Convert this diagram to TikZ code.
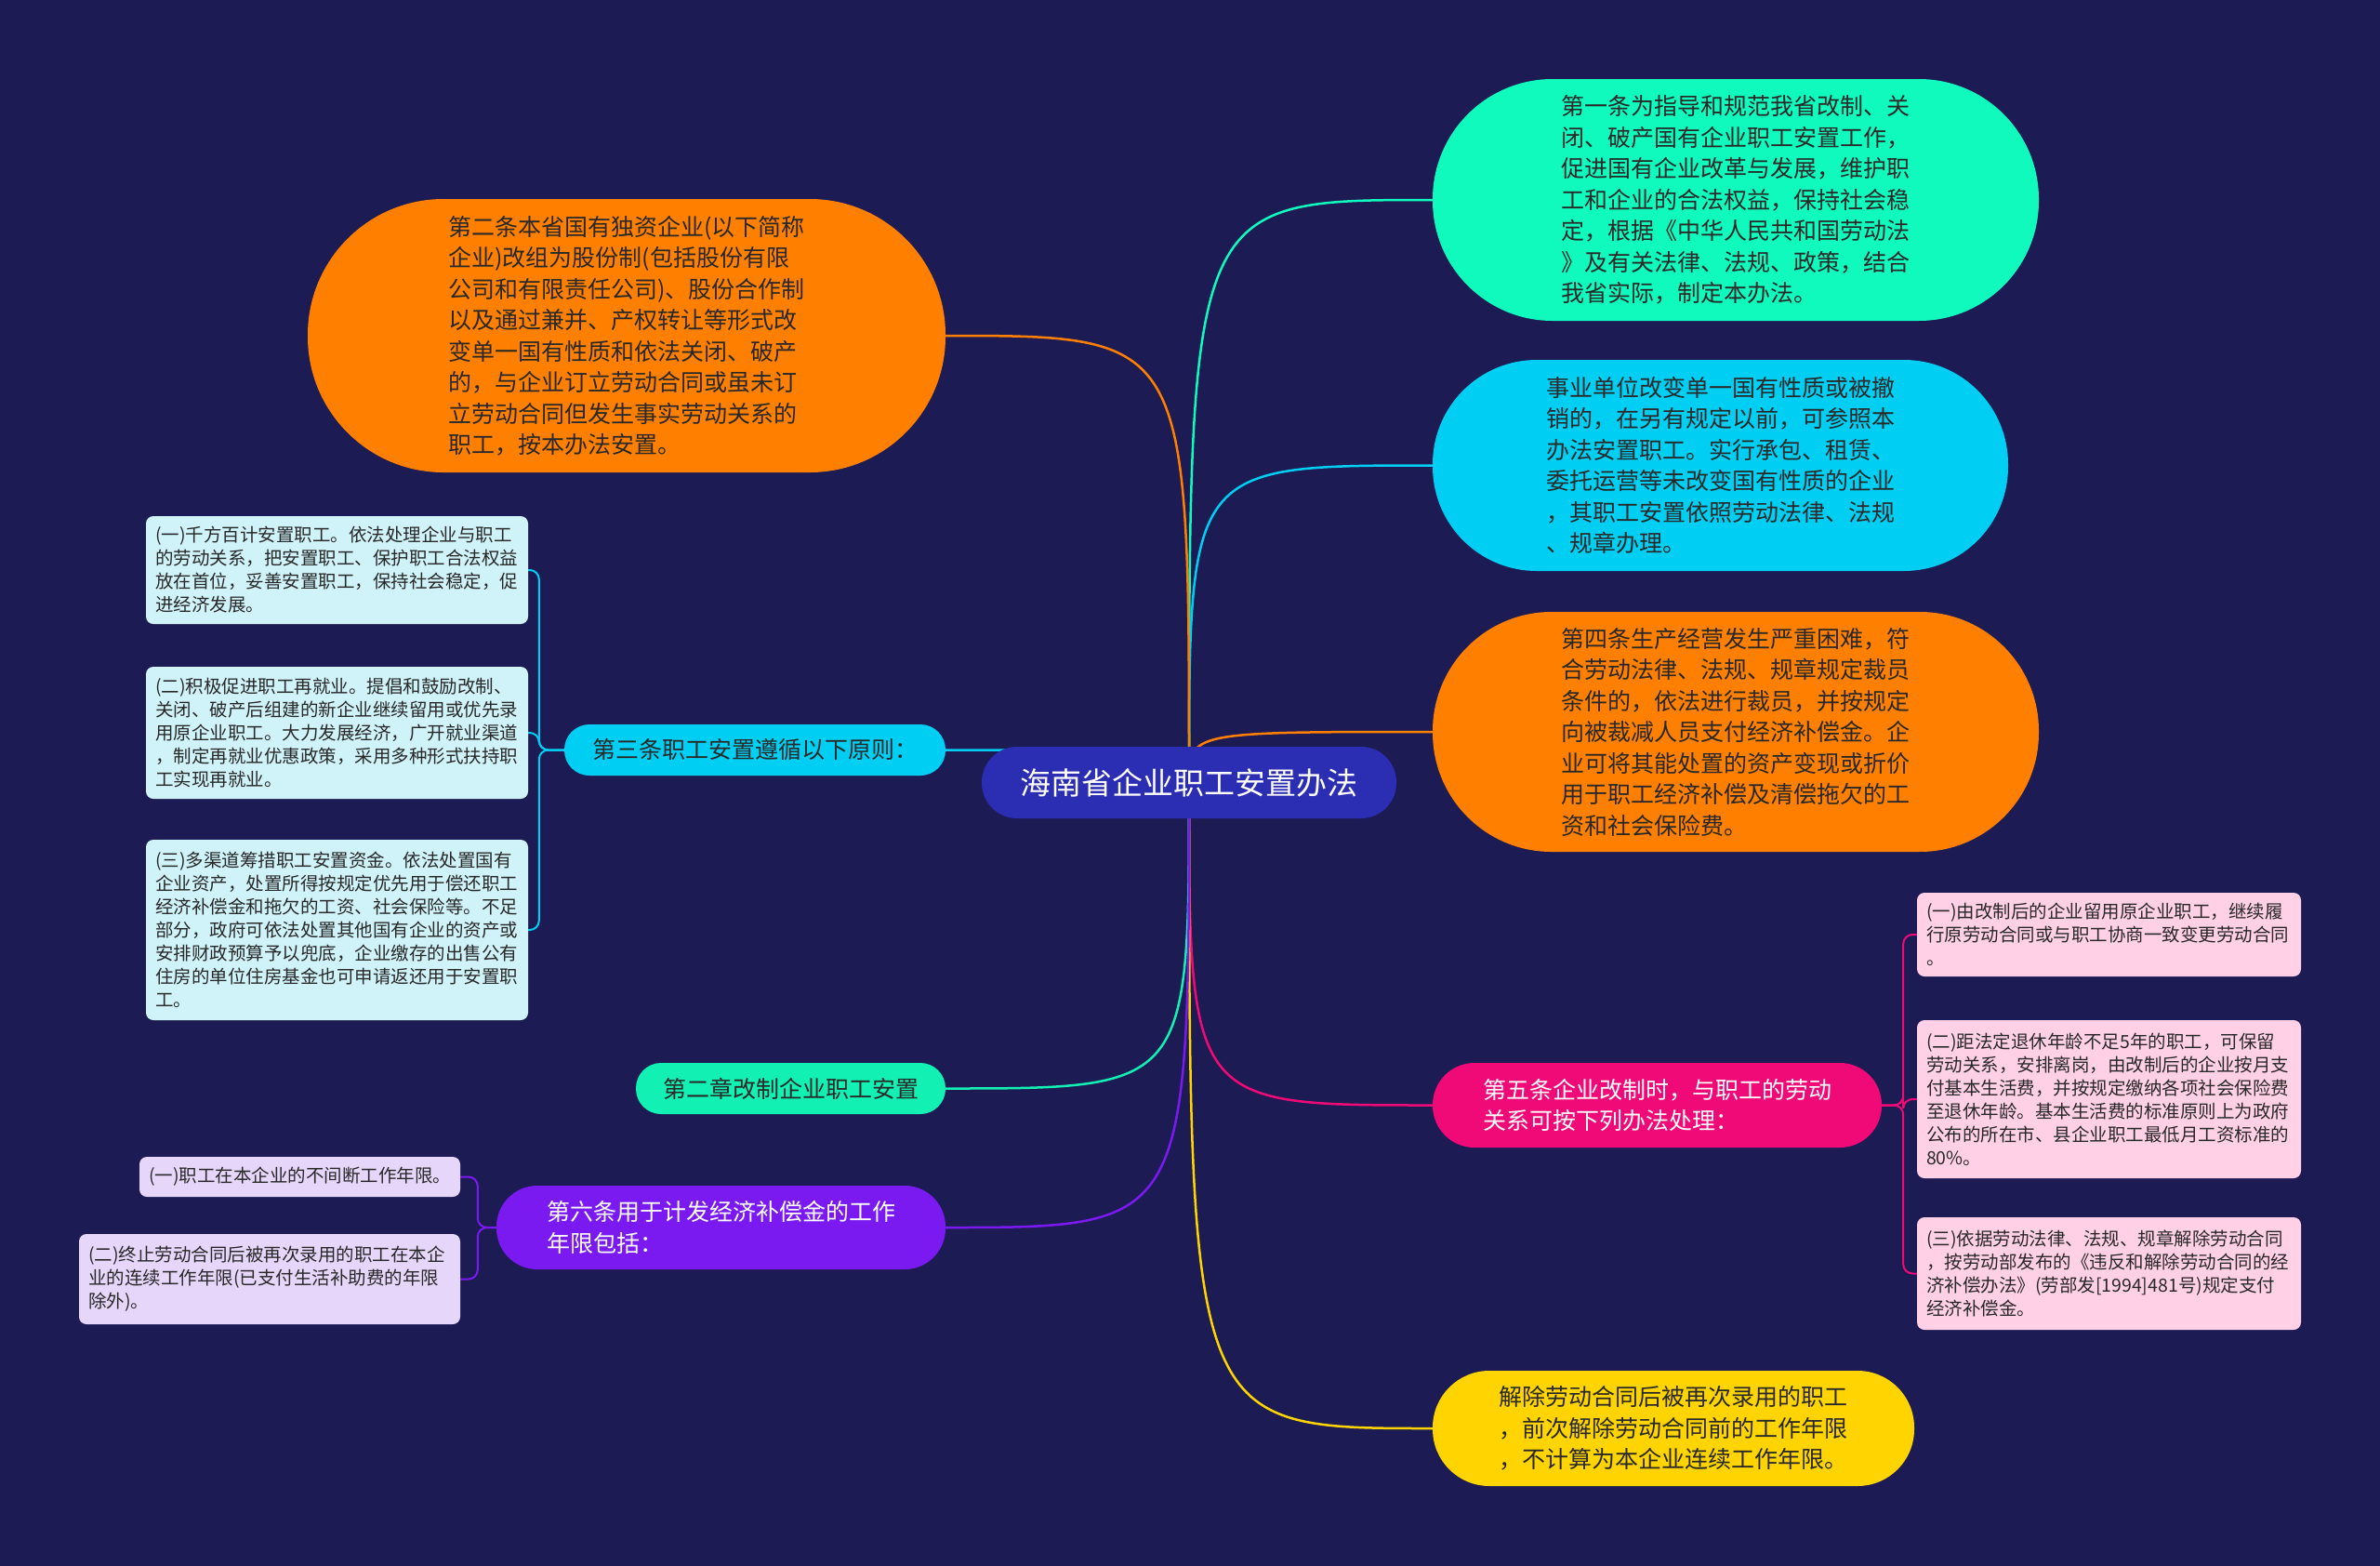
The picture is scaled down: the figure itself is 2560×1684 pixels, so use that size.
\documentclass[tikz,border=0pt]{standalone}
\usepackage{fontspec}
\setmainfont{Noto Sans CJK SC}
\usetikzlibrary{calc}
\pgfdeclarelayer{bg}
\pgfdeclarelayer{edges}
\pgfsetlayers{bg,edges,main}
\definecolor{bgc}{RGB}{28,27,84}
\definecolor{cent}{RGB}{43,45,178}
\definecolor{teal}{RGB}{16,250,190}
\definecolor{cyanc}{RGB}{0,206,242}
\definecolor{orng}{RGB}{255,128,0}
\definecolor{pinkc}{RGB}{240,10,120}
\definecolor{yell}{RGB}{255,212,0}
\definecolor{mint}{RGB}{18,240,180}
\definecolor{purp}{RGB}{123,26,240}
\definecolor{lcyan}{RGB}{208,243,250}
\definecolor{lpink}{RGB}{255,208,230}
\definecolor{lpurp}{RGB}{230,214,250}
\definecolor{dk}{RGB}{40,40,40}
\tikzset{
  bignode/.style={align=left, inner sep=0pt, font=\fontsize{25}{33.5}\selectfont, text=dk},
  leaf/.style={align=left, inner xsep=10pt, inner ysep=0pt, rounded corners=8pt, font=\fontsize{19.5}{25}\selectfont, text=dk},
  edge/.style={line width=2.5pt},
  br/.style={line width=2pt, rounded corners=10pt}
}
\begin{document}
\begin{tikzpicture}[x=1pt,y=-1pt]
\begin{pgfonlayer}{bg}
\fill[bgc] (0,0) rectangle (2560,1684);
\end{pgfonlayer}
\useasboundingbox (0,0) rectangle (2560,1684);

% centre
\node[fill=cent, rounded corners=38pt, minimum width=446pt, minimum height=77pt, inner sep=0pt, text=white, font=\fontsize{33}{40}\selectfont] (c) at (1279,841.5) {海南省企业职工安置办法};

% right main nodes
\node[bignode, fill=teal, rounded corners=129pt, minimum width=652pt, minimum height=260pt] (n1) at (1867,215) {第一条为指导和规范我省改制、关\\闭、破产国有企业职工安置工作，\\促进国有企业改革与发展，维护职\\工和企业的合法权益，保持社会稳\\定，根据《中华人民共和国劳动法\\》及有关法律、法规、政策，结合\\我省实际，制定本办法。};
\node[bignode, fill=cyanc, rounded corners=112pt, minimum width=619pt, minimum height=227pt] (n2) at (1850.5,500.5) {事业单位改变单一国有性质或被撤\\销的，在另有规定以前，可参照本\\办法安置职工。实行承包、租赁、\\委托运营等未改变国有性质的企业\\，其职工安置依照劳动法律、法规\\、规章办理。};
\node[bignode, fill=orng, rounded corners=128pt, minimum width=652pt, minimum height=258pt] (n4) at (1867,787) {第四条生产经营发生严重困难，符\\合劳动法律、法规、规章规定裁员\\条件的，依法进行裁员，并按规定\\向被裁减人员支付经济补偿金。企\\业可将其能处置的资产变现或折价\\用于职工经济补偿及清偿拖欠的工\\资和社会保险费。};
\node[bignode, fill=pinkc, text=white, rounded corners=45pt, minimum width=483pt, minimum height=91pt] (n5) at (1782.5,1188.5) {第五条企业改制时，与职工的劳动\\关系可按下列办法处理：};
\node[bignode, fill=yell, rounded corners=61pt, minimum width=518pt, minimum height=124pt] (n7) at (1800,1536) {解除劳动合同后被再次录用的职工\\，前次解除劳动合同前的工作年限\\，不计算为本企业连续工作年限。};

% left main nodes
\node[bignode, fill=orng, rounded corners=146pt, minimum width=686pt, minimum height=294pt] (m2) at (674,361) {第二条本省国有独资企业(以下简称\\企业)改组为股份制(包括股份有限\\公司和有限责任公司)、股份合作制\\以及通过兼并、产权转让等形式改\\变单一国有性质和依法关闭、破产\\的，与企业订立劳动合同或虽未订\\立劳动合同但发生事实劳动关系的\\职工，按本办法安置。};
\node[bignode, fill=cyanc, rounded corners=27pt, minimum width=410pt, minimum height=55pt] (m3) at (812,806.5) {第三条职工安置遵循以下原则：};
\node[bignode, fill=mint, rounded corners=27pt, minimum width=333pt, minimum height=55pt] (m4) at (850.5,1170.5) {第二章改制企业职工安置};
\node[bignode, fill=purp, text=white, rounded corners=44pt, minimum width=483pt, minimum height=90pt] (m6) at (775.5,1320) {第六条用于计发经济补偿金的工作\\年限包括：};

% left leaves
\node[leaf, fill=lcyan, text width=391pt, minimum height=116pt] (l1) at (362.5,613) {(一)千方百计安置职工。依法处理企业与职工\\的劳动关系，把安置职工、保护职工合法权益\\放在首位，妥善安置职工，保持社会稳定，促\\进经济发展。};
\node[leaf, fill=lcyan, text width=391pt, minimum height=142pt] (l2) at (362.5,788) {(二)积极促进职工再就业。提倡和鼓励改制、\\关闭、破产后组建的新企业继续留用或优先录\\用原企业职工。大力发展经济，广开就业渠道\\，制定再就业优惠政策，采用多种形式扶持职\\工实现再就业。};
\node[leaf, fill=lcyan, text width=391pt, minimum height=194pt] (l3) at (362.5,1000) {(三)多渠道筹措职工安置资金。依法处置国有\\企业资产，处置所得按规定优先用于偿还职工\\经济补偿金和拖欠的工资、社会保险等。不足\\部分，政府可依法处置其他国有企业的资产或\\安排财政预算予以兜底，企业缴存的出售公有\\住房的单位住房基金也可申请返还用于安置职\\工。};
\node[leaf, fill=lpurp, text width=325pt, minimum height=43pt] (p1) at (322.5,1265.5) {(一)职工在本企业的不间断工作年限。};
\node[leaf, fill=lpurp, text width=390pt, minimum height=97pt] (p2) at (290,1375.5) {(二)终止劳动合同后被再次录用的职工在本企\\业的连续工作年限(已支付生活补助费的年限\\除外)。};

% right leaves
\node[leaf, fill=lpink, text width=393pt, minimum height=90pt] (r1) at (2268.5,1005) {(一)由改制后的企业留用原企业职工，继续履\\行原劳动合同或与职工协商一致变更劳动合同\\。};
\node[leaf, fill=lpink, text width=393pt, minimum height=170pt] (r2) at (2268.5,1182) {(二)距法定退休年龄不足5年的职工，可保留\\劳动关系，安排离岗，由改制后的企业按月支\\付基本生活费，并按规定缴纳各项社会保险费\\至退休年龄。基本生活费的标准原则上为政府\\公布的所在市、县企业职工最低月工资标准的\\80\%。};
\node[leaf, fill=lpink, text width=393pt, minimum height=121pt] (r3) at (2268.5,1369.5) {(三)依据劳动法律、法规、规章解除劳动合同\\，按劳动部发布的《违反和解除劳动合同的经\\济补偿办法》(劳部发[1994]481号)规定支付\\经济补偿金。};

\begin{pgfonlayer}{edges}
\draw[edge, teal] (c.center) .. controls (c.center |- n1.west) .. (n1.west);
\draw[edge, cyanc] (c.center) .. controls (c.center |- n2.west) .. (n2.west);
\draw[edge, orng] (c.center) .. controls (c.center |- n4.west) .. (n4.west);
\draw[edge, pinkc] (c.center) .. controls (c.center |- n5.west) .. (n5.west);
\draw[edge, yell] (c.center) .. controls (c.center |- n7.west) .. (n7.west);
\draw[edge, orng] (c.center) .. controls (c.center |- m2.east) .. (m2.east);
\draw[edge, cyanc] (c.center) .. controls (c.center |- m3.east) .. (m3.east);
\draw[edge, mint] (c.center) .. controls (c.center |- m4.east) .. (m4.east);
\draw[edge, purp] (c.center) .. controls (c.center |- m6.east) .. (m6.east);
% brackets
\draw[br, cyanc] (m3.west) -- ++(-27,0) |- (l1.east);
\draw[br, cyanc] (m3.west) -- ++(-27,0) |- (l2.east);
\draw[br, cyanc] (m3.west) -- ++(-27,0) |- (l3.east);
\draw[br, purp] (m6.west) -- ++(-20,0) |- (p1.east);
\draw[br, purp] (m6.west) -- ++(-20,0) |- (p2.east);
\draw[br, pinkc] (n5.east) -- ++(23,0) |- (r1.west);
\draw[br, pinkc] (n5.east) -- ++(23,0) |- (r2.west);
\draw[br, pinkc] (n5.east) -- ++(23,0) |- (r3.west);
\end{pgfonlayer}
\end{tikzpicture}
\end{document}
